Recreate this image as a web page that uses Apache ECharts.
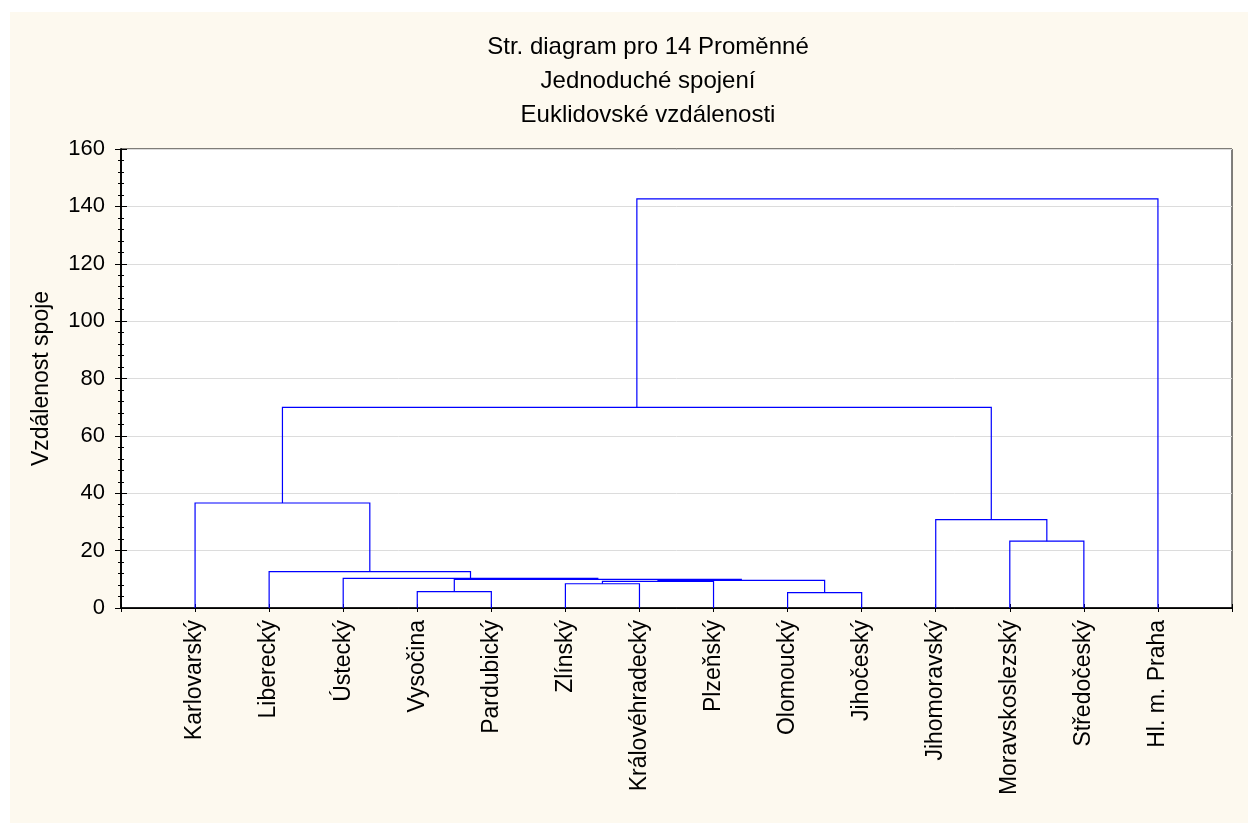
<!DOCTYPE html>
<html>
<head>
<meta charset="utf-8">
<script src="https://cdn.jsdelivr.net/npm/echarts@6/dist/echarts.min.js"></script>
<style>
html,body{margin:0;padding:0;background:#ffffff;}
#chart{position:absolute;left:10px;top:12px;width:1238px;height:811px;}
</style>
</head>
<body>
<div id="chart"></div>
<script>
// Leaves (order along the x axis)
var leafNames = ['Karlovarský','Liberecký','Ústecký','Vysočina','Pardubický','Zlínský','Královéhradecký','Plzeňský','Olomoucký','Jihočeský','Jihomoravský','Moravskoslezský','Středočeský','Hl. m. Praha'];
// Merges: ids < 14 are leaves, id 14+k is merge k
var mergeA = [3, 8, 5, 16, 17, 14, 2, 1, 0, 11, 10, 22, 25];
var mergeB = [4, 9, 6, 7, 15, 18, 19, 20, 21, 12, 23, 24, 13];
var mergeHeight = [5.7, 5.35, 8.45, 9.25, 9.65, 10.0, 10.35, 12.7, 36.6, 23.3, 30.8, 69.9, 142.6];
var yTicks = [0, 20, 40, 60, 80, 100, 120, 140, 160];
var titleLines = ['Str. diagram pro 14 Proměnné', 'Jednoduché spojení', 'Euklidovské vzdálenosti'];

var nLeaf = leafNames.length;
var nodeX = [], nodeH = [];
for (var i = 0; i < nLeaf; i++) { nodeX.push(i + 1); nodeH.push(0); }
var segData = [];
for (var k = 0; k < mergeA.length; k++) {
  var a = mergeA[k], b = mergeB[k], h = mergeHeight[k];
  segData.push([nodeX[a], nodeX[b], h, nodeH[a], nodeH[b]]);
  nodeX.push((nodeX[a] + nodeX[b]) / 2);
  nodeH.push(h);
}

var chart = echarts.init(document.getElementById('chart'));
var FONT = 'Liberation Sans, Arial, sans-serif';
var titles = titleLines.map(function (t, i) {
  return {
    text: t, left: 633, top: 18 + i * 34, textAlign: 'center',
    textStyle: { fontFamily: FONT, fontSize: 24, fontWeight: 'normal', color: '#000' }
  };
});
var option = {
  backgroundColor: '#fdf9ef',
  animation: false,
  title: titles,
  grid: { left: 111, right: 16, top: 137, bottom: 215, show: true, backgroundColor: '#ffffff', borderColor: '#000', borderWidth: 1 },
  xAxis: [{
    type: 'value', min: 0, max: nLeaf + 1, interval: 1,
    axisLine: { show: true, onZero: false, lineStyle: { color: '#000', width: 1.5 } },
    axisTick: { show: true, inside: true, length: 4, lineStyle: { color: '#000' } },
    splitLine: { show: false },
    axisLabel: {
      rotate: 90, margin: 12, fontFamily: FONT, fontSize: 23, color: '#000',
      formatter: function (v) { return (v >= 1 && v <= nLeaf) ? leafNames[v - 1] : ''; }
    }
  }, {
    type: 'value', position: 'top', min: 0, max: nLeaf + 1, interval: 1,
    axisLine: { show: true, lineStyle: { color: '#000' } },
    axisTick: { show: true, inside: true, length: 4, lineStyle: { color: '#000' } },
    axisLabel: { show: false }, splitLine: { show: false }
  }],
  yAxis: [{
    type: 'value', min: yTicks[0], max: yTicks[yTicks.length - 1], interval: 20,
    name: 'Vzdálenost spoje', nameLocation: 'middle', nameGap: 68,
    nameTextStyle: { fontFamily: FONT, fontSize: 23, color: '#000' },
    axisLine: { show: true, lineStyle: { color: '#000', width: 1.5 } },
    axisTick: { show: true, inside: true, length: 6, lineStyle: { color: '#000' } },
    minorTick: { show: true, splitNumber: 5, length: 3, lineStyle: { color: '#000' } },
    splitLine: { show: true, lineStyle: { color: '#dcdcdc', width: 1 } },
    axisLabel: { margin: 16, fontFamily: FONT, fontSize: 22, color: '#000' }
  }, {
    type: 'value', position: 'right', min: yTicks[0], max: yTicks[yTicks.length - 1], interval: 20,
    axisLine: { show: true, lineStyle: { color: '#000', width: 1.5 } },
    axisTick: { show: true, inside: true, length: 6, lineStyle: { color: '#000' } },
    minorTick: { show: true, splitNumber: 5, length: 3, lineStyle: { color: '#000' } },
    splitLine: { show: false }, axisLabel: { show: false }
  }],
  series: [{
    type: 'custom',
    xAxisIndex: 0, yAxisIndex: 0,
    data: segData,
    renderItem: function (params, api) {
      var xl = api.value(0), xr = api.value(1), h = api.value(2), hl = api.value(3), hr = api.value(4);
      var pts = [api.coord([xl, hl]), api.coord([xl, h]), api.coord([xr, h]), api.coord([xr, hr])];
      return {
        type: 'polyline',
        shape: { points: pts },
        style: { stroke: '#0000ff', lineWidth: 1.2, fill: null }
      };
    },
    z: 5
  }]
};
chart.setOption(option);
</script>
</body>
</html>
